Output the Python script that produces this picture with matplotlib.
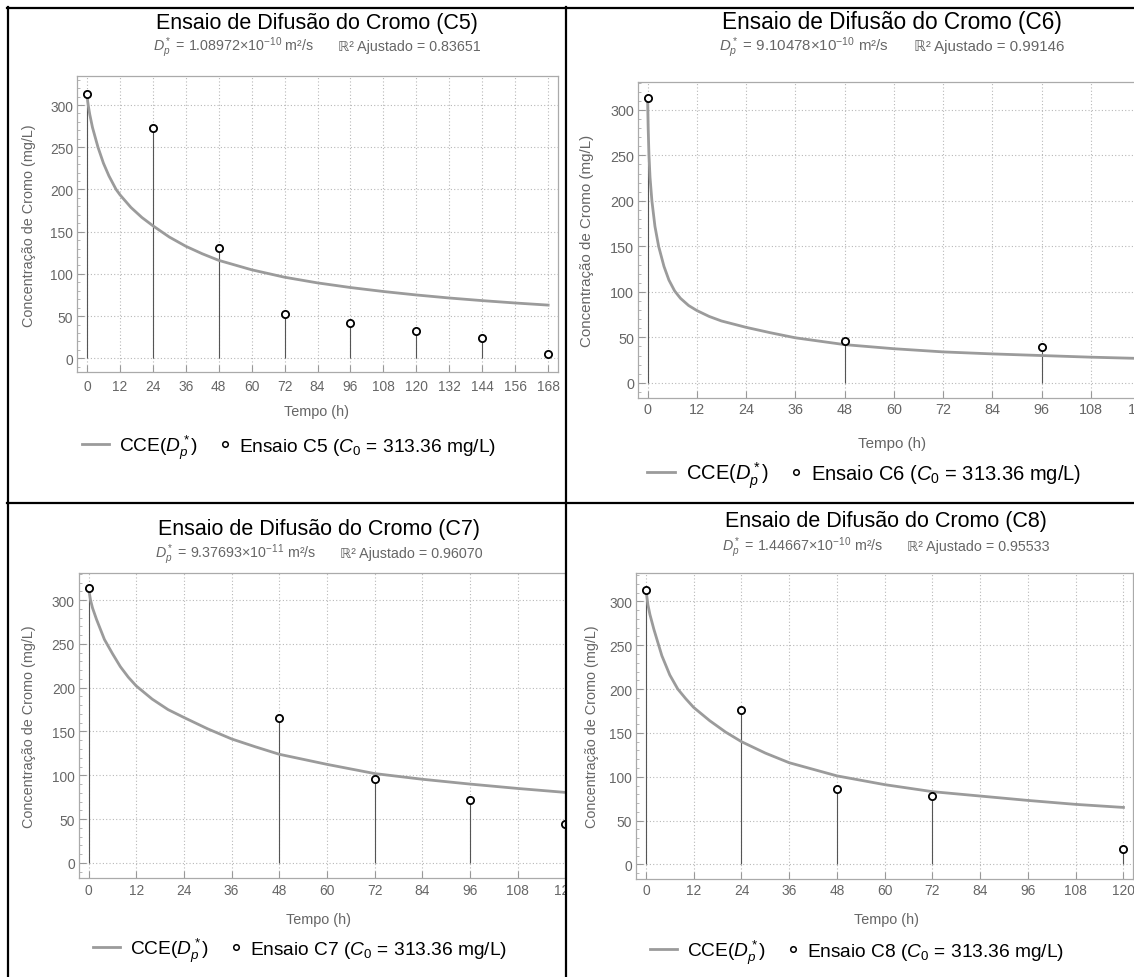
import matplotlib
matplotlib.use('Agg')
import matplotlib.pyplot as plt
from matplotlib.lines import Line2D
from matplotlib.patches import Rectangle
import numpy as np

# ------------------------------------------------------------
# Dados (tempo em h, concentração em mg/L)
# ------------------------------------------------------------
t_c5 = [0, 24, 48, 72, 96, 120, 144, 168]
c_c5 = [313.36, 273, 130.5, 52.5, 42.3, 32.8, 24.1, 5.1]

t_c6 = [0, 48, 96]
c_c6 = [313.36, 45.6, 39]

t_c7 = [0, 48, 72, 96, 120]
c_c7 = [313.36, 165, 96.2, 71.9, 44.5]

t_c8 = [0, 24, 48, 72, 120]
c_c8 = [313.36, 176.6, 86.6, 77.5, 17.8]

# curvas CCE(Dp*) lidas ponto a ponto
tc_c5 = [0, 0.25, 0.5, 1, 2, 4, 6, 8, 10.6, 12, 16, 20, 24, 30, 36, 42, 48, 60, 72,
         84, 96, 108, 120, 132, 144, 156, 168]
cc_c5 = [313.36, 304.5, 298.7, 289, 273.4, 250, 231, 216, 200, 193.7, 178.7, 166.8, 157,
         143.6, 132.7, 123.8, 116, 104.8, 96, 89.3, 83.8, 79.1, 75, 71.4, 68.3, 65.5, 63]

tc_c6 = [0, 0.15, 0.35, 0.6, 1.06, 1.8, 2.7, 4, 5.2, 6.6, 8, 10, 12, 15, 18, 24, 30,
         36, 48, 60, 72, 84, 96, 108, 120]
cc_c6 = [313.36, 280, 250, 226, 200, 172, 150, 128, 113, 101, 93, 85, 79.5, 73, 68, 61,
         55, 49.5, 42, 37.5, 34, 31.8, 30, 28.2, 26.8]

tc_c7 = [0, 0.5, 1, 2, 4, 6, 8, 10, 12, 16, 20, 24, 30, 36, 42, 48, 60, 72, 84, 96, 108, 120]
cc_c7 = [313.36, 300, 291, 278, 255, 239, 224, 212, 202, 187, 175, 166, 153, 141.5,
         132.5, 124, 112.5, 102, 95.5, 90, 85, 80.5]

tc_c8 = [0, 0.5, 1, 2, 4, 6, 8, 10, 12, 16, 20, 24, 30, 36, 42, 48, 60, 72, 84, 96, 108, 120]
cc_c8 = [313.36, 296, 285, 268, 238, 216, 200, 189, 179, 164, 151, 140, 127, 116,
         108.5, 101, 91, 83, 78, 73, 68.5, 65]

dp_txt = ['1.08972', '9.10478', '9.37693', '1.44667']
dp_exp = ['-10', '-10', '-11', '-10']
r2_txt = ['0.83651', '0.99146', '0.96070', '0.95533']
ensaios = ['C5', 'C6', 'C7', 'C8']
C0 = 313.36

# ------------------------------------------------------------
# Estilo
# ------------------------------------------------------------
plt.rcParams['font.family'] = ['Liberation Sans', 'DejaVu Sans']
plt.rcParams['mathtext.fontset'] = 'custom'
plt.rcParams['mathtext.rm'] = 'Liberation Sans'
plt.rcParams['mathtext.it'] = 'Liberation Sans:italic'
plt.rcParams['mathtext.bf'] = 'Liberation Sans:bold'
plt.rcParams['mathtext.sf'] = 'Liberation Sans'

W, H = 1134, 978
fig = plt.figure(figsize=(W / 100, H / 100), dpi=100)
fig.patch.set_facecolor('white')
renderer = fig.canvas.get_renderer()

CINZA_CURVA = '#9b9b9b'
CINZA_TXT = '#666666'


def fx(x):
    return x / W


def fy(y):
    return 1 - y / H


def linha_textos(cx, cy, itens, fs, cor):
    # itens: lista de (tipo, valor, espaço depois) -> 'txt', 'reta', 'bola'
    em = fs * 100 / 72
    base = cy + 0.36 * em
    larg = []
    objs = []
    for tipo, val, gap in itens:
        if tipo == 'txt':
            t = fig.text(0, fy(base), val, ha='left', va='baseline', fontsize=fs, color=cor)
            w = t.get_window_extent(renderer).width
            objs.append(t)
        else:
            w = val
            objs.append(None)
        larg.append(w)
    total = sum(larg) + sum(g for _, _, g in itens[:-1])
    x = cx - total / 2
    for (tipo, val, gap), w, o in zip(itens, larg, objs):
        if tipo == 'txt':
            o.set_x(fx(x))
        elif tipo == 'reta':
            fig.add_artist(Line2D([fx(x), fx(x + w)], [fy(cy), fy(cy)], color=CINZA_CURVA,
                                  lw=2, transform=fig.transFigure))
        elif tipo == 'bola':
            fig.add_artist(Line2D([fx(x + w / 2)], [fy(cy)], ls='', marker='o', ms=4,
                                  mfc='white', mec='black', mew=1.1,
                                  transform=fig.transFigure))
        x += w + gap


def painel(i, rect, xlim, ylim, xmax, t_pts, c_pts, t_cur, c_cur,
           tit_xy, sub_y, ylab_x, xlab_y, leg_xy, xpad, esc=1.0):
    l, tp, r, b = rect
    ax = fig.add_axes([fx(l), fy(b), (r - l) / W, (b - tp) / H])
    ax.plot(t_cur, c_cur, color=CINZA_CURVA, lw=2.0, zorder=3)
    ax.vlines(t_pts, 0, c_pts, color='#555555', lw=0.8, zorder=2)
    ax.plot(t_pts, c_pts, ls='', marker='o', ms=5.2, mfc='white', mec='black',
            mew=1.3, zorder=4)
    ax.set_xlim(xlim)
    ax.set_ylim(ylim)
    ax.set_xticks(np.arange(0, xmax + 1, 12))
    ax.set_yticks(np.arange(0, 301, 50))
    ax.set_yticks(np.arange(-10, ylim[1], 10), minor=True)
    ax.grid(True, which='major', ls=(0, (1, 2)), color='#b8b8b8', lw=0.8)
    ax.tick_params(which='major', direction='in', length=5, width=0.8, color='#999999',
                   labelcolor=CINZA_TXT, labelsize=9.9 * esc, top=False, right=False)
    ax.tick_params(axis='x', pad=xpad)
    ax.tick_params(axis='y', pad=2.7)
    ax.tick_params(which='minor', direction='in', length=2.5, width=0.6,
                   color='#aaaaaa', top=False, right=False)
    for s in ax.spines.values():
        s.set_color('#aaaaaa')
        s.set_linewidth(0.9)

    nome = ensaios[i]
    fig.text(fx(tit_xy[0]), fy(tit_xy[1]), f'Ensaio de Difusão do Cromo ({nome})',
             ha='center', va='center', fontsize=15.5 * esc, color='black')
    # subtítulo: parte com D*p em mathtext, parte com ℝ² em texto comum
    sub1 = r'$D_p^*$ = ' + dp_txt[i] + '×10' + r'$^{' + dp_exp[i] + r'}$ m²/s'
    sub2 = 'ℝ² Ajustado = ' + r2_txt[i]
    linha_textos(tit_xy[0], sub_y, [('txt', sub1, 24 * esc), ('txt', sub2, 0)],
                 10.3 * esc, CINZA_TXT)
    fig.text(fx(ylab_x), fy((tp + b) / 2), 'Concentração de Cromo (mg/L)', rotation=90,
             ha='center', va='center', fontsize=10.4 * esc, color=CINZA_TXT)
    fig.text(fx(tit_xy[0]), fy(xlab_y), 'Tempo (h)',
             ha='center', va='center', fontsize=10.4 * esc, color=CINZA_TXT)

    leg = [('reta', 27 * esc, 10 * esc),
           ('txt', r'CCE($D_p^*$)', 23 * esc),
           ('bola', 6, 11 * esc),
           ('txt', f'Ensaio {nome} ($C_0$ = {C0:.2f} mg/L)', 0)]
    linha_textos(leg_xy[0], leg_xy[1], leg, 13.8 * esc, 'black')
    return ax


painel(0, (76.7, 77.3, 558, 373.3), (-3.75, 171.6), (-16.6, 334), 168,
       t_c5, c_c5, tc_c5, cc_c5, (317, 23), 46, 29, 412, (289, 445), 5.0)
painel(1, (637.7, 82.7, 1150, 399.3), (-2.4, 122.4), (-17, 331), 120,
       t_c6, c_c6, tc_c6, cc_c6, (892, 22), 45.5, 587, 444, (864, 473), 3.0, 1.05)
painel(2, (78.6, 574.3, 575, 879.3), (-2.5, 122.4), (-17.5, 330.5), 120,
       t_c7, c_c7, tc_c7, cc_c7, (319, 529), 553, 29, 920, (300, 948), 3.5)
painel(3, (636, 574.3, 1133, 880), (-2.5, 122.4), (-16.6, 332), 120,
       t_c8, c_c8, tc_c8, cc_c8, (886, 522), 546, 592, 920, (857, 950), 2.8)

# corta o painel C7 na divisória da tabela
fig.add_artist(Rectangle((fx(567), fy(978)), 15 / W, (978 - 505) / H,
                         transform=fig.transFigure, facecolor='white',
                         edgecolor='none', zorder=8))

# bordas da tabela
for xs, ys in [((7, W), (8.5, 8.5)), ((7.5, 7.5), (8, H)),
               ((566, 566), (8, H)), ((7, W), (504, 504))]:
    fig.add_artist(Line2D([fx(v) for v in xs], [fy(v) for v in ys],
                          transform=fig.transFigure, color='black', lw=1.6, zorder=10))

fig.savefig('out.png', dpi=100)
